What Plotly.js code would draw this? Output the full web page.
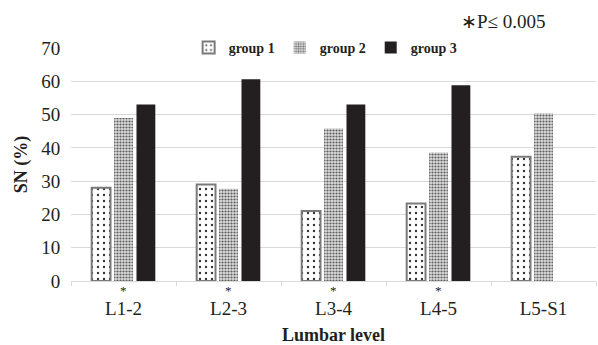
<!DOCTYPE html>
<html>
<head>
<meta charset="utf-8">
<script src="https://cdn.plot.ly/plotly-3.0.1.min.js"></script>
<style>html,body{margin:0;padding:0;background:#fff;}#chart{width:598px;height:345px;}</style>
</head>
<body>
<div id="chart"></div>
<script>
const categories = ["L1-2", "L2-3", "L3-4", "L4-5", "L5-S1"];
const group1 = [28, 29, 21, 23.3, 37.3];
const group2 = [49, 27.7, 45.8, 38.6, 50.4];
const group3 = [53, 60.6, 53, 58.8, null];
const seriesNames = ["group 1", "group 2", "group 3"];
const significant = ["L1-2", "L2-3", "L3-4", "L4-5"];
const noteText = "\u2217P\u2264 0.005";

const serif = "'Liberation Serif', 'Times New Roman', serif";
const ink = "#231f20";

const traces = [
  {
    type: "bar", name: "<b>" + seriesNames[0] + "</b>", x: categories, y: group1,
    marker: {
      color: "white",
      line: {color: "#7a7a7a", width: 2},
      pattern: {shape: ".", fgcolor: "#333333", bgcolor: "white", size: 6, solidity: 0.12, fillmode: "replace"}
    }
  },
  {
    type: "bar", name: "<b>" + seriesNames[1] + "</b>", x: categories, y: group2,
    marker: {
      color: "#b0b0b0",
      line: {width: 0},
      pattern: {shape: ".", fgcolor: "#5e5e5e", bgcolor: "#dedede", size: 3, solidity: 0.42, fillmode: "replace"}
    }
  },
  {
    type: "bar", name: "<b>" + seriesNames[2] + "</b>", x: categories, y: group3,
    marker: {color: ink, line: {width: 0}}
  }
];

const plotL = 71, plotR = 2, W = 598;
const annotations = significant.map(c => ({
  x: c, xref: "x", y: 0, yref: "paper", yshift: 0, yanchor: "top",
  text: "*", showarrow: false, font: {family: serif, size: 13, color: ink}
}));
annotations.push({
  x: (548 - plotL) / (W - plotL - plotR), xref: "paper", xanchor: "right",
  y: 1, yref: "paper", yanchor: "bottom", yshift: 14,
  text: noteText, showarrow: false, font: {family: serif, size: 19, color: ink}
});

const layout = {
  width: W, height: 345,
  margin: {l: plotL, r: plotR, t: 48, b: 64, pad: 0},
  paper_bgcolor: "white", plot_bgcolor: "white",
  barmode: "group", bargap: 0.36, bargroupgap: 0.16,
  font: {family: serif, color: ink},
  showlegend: true,
  legend: {
    orientation: "h", x: 0.485, xanchor: "center", y: 1.0, yanchor: "middle",
    bgcolor: "rgba(0,0,0,0)", font: {family: serif, size: 14, color: ink},
    itemwidth: 30, traceorder: "normal"
  },
  xaxis: {
    type: "category",
    showgrid: false, showline: true, linecolor: "#d9d9d9", linewidth: 1,
    ticks: "outside", tickson: "boundaries", ticklen: 4, tickcolor: "#d9d9d9",
    ticklabelstandoff: 10,
    tickfont: {family: serif, size: 19, color: ink},
    title: {text: "<b>Lumbar level</b>", font: {family: serif, size: 18, color: ink}, standoff: 10},
    zeroline: false
  },
  yaxis: {
    range: [0, 70], dtick: 10, tick0: 0,
    showgrid: true, gridcolor: "#d9d9d9", gridwidth: 1,
    showline: false, zeroline: false,
    ticks: "outside", ticklen: 6, tickcolor: "rgba(0,0,0,0)",
    tickfont: {family: serif, size: 19, color: ink},
    title: {text: "<b>SN (%)</b>", font: {family: serif, size: 18, color: ink}, standoff: 8}
  },
  annotations: annotations
};

Plotly.newPlot("chart", traces, layout, {displayModeBar: false, staticPlot: true});
</script>
</body>
</html>
